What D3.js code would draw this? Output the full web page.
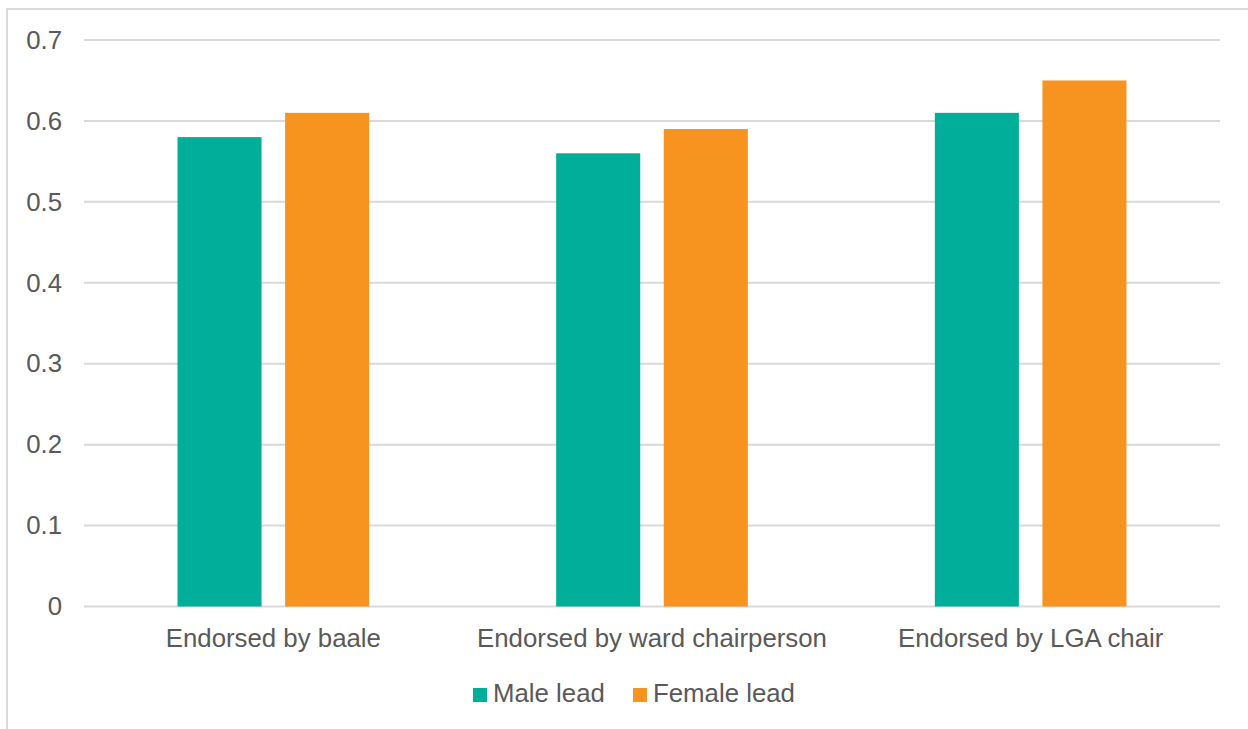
<!DOCTYPE html>
<html>
<head>
<meta charset="utf-8">
<script src="https://cdn.jsdelivr.net/npm/d3@7"></script>
<style>
  html, body { margin: 0; padding: 0; background: #fff; }
  svg { display: block; }
  text { font-family: "Liberation Sans", Arial, sans-serif; fill: #595959; }
</style>
</head>
<body>
<svg id="chart" width="1248" height="729"></svg>
<script>
// Endorsement rates by leader gender
const categories = ["Endorsed by baale", "Endorsed by ward chairperson", "Endorsed by LGA chair"];
const seriesNames = ["Male lead", "Female lead"];
const maleLead = [0.58, 0.56, 0.61];
const femaleLead = [0.61, 0.59, 0.65];
const tickValues = [0, 0.1, 0.2, 0.3, 0.4, 0.5, 0.6, 0.7];
const tickLabels = ["0", "0.1", "0.2", "0.3", "0.4", "0.5", "0.6", "0.7"];
const colors = ["#00AE99", "#F7941F"];
const fontSize = 25.8;

const seriesValues = [maleLead, femaleLead];
const rows = categories.map((c, i) => ({
  category: c,
  values: seriesNames.map((s, j) => ({ series: s, value: seriesValues[j][i], color: colors[j] }))
}));

const svg = d3.select("#chart");

// outer frame
svg.append("rect")
  .attr("x", 7).attr("y", 9)
  .attr("width", 1400).attr("height", 900)
  .attr("fill", "none")
  .attr("stroke", "#d9d9d9")
  .attr("stroke-width", 2);

const plot = { left: 84, right: 1220, top: 40, bottom: 606.5 };

const y = d3.scaleLinear().domain([0, 0.7]).range([plot.bottom, plot.top]);
const x0 = d3.scaleBand().domain(categories).range([plot.left, plot.right]).padding(0);
const x1 = d3.scaleBand().domain(seriesNames).range([0, x0.bandwidth()])
  .paddingInner(0.219).paddingOuter(0.869);

// gridlines
svg.append("g")
  .selectAll("line")
  .data(tickValues)
  .join("line")
  .attr("x1", plot.left).attr("x2", plot.right)
  .attr("y1", d => y(d)).attr("y2", d => y(d))
  .attr("stroke", "#d9d9d9")
  .attr("stroke-width", 2);

// y-axis labels
const yAxis = d3.axisLeft(y)
  .tickValues(tickValues)
  .tickFormat((d, i) => tickLabels[i])
  .tickSize(0)
  .tickPadding(0);
const yg = svg.append("g").attr("transform", "translate(62,0)").call(yAxis);
yg.select(".domain").remove();
yg.selectAll("text")
  .attr("font-size", fontSize)
  .attr("fill", "#595959")
  .style("font-family", "'Liberation Sans', Arial, sans-serif");

// bars
const groups = svg.append("g")
  .selectAll("g")
  .data(rows)
  .join("g")
  .attr("transform", d => `translate(${x0(d.category)},0)`);

groups.selectAll("rect")
  .data(d => d.values)
  .join("rect")
  .attr("x", d => x1(d.series))
  .attr("y", d => y(d.value))
  .attr("width", x1.bandwidth())
  .attr("height", d => y(0) - y(d.value))
  .attr("fill", d => d.color);

// category labels
const xAxis = d3.axisBottom(x0).tickSize(0).tickPadding(0);
const xg = svg.append("g").attr("transform", "translate(0,647)").call(xAxis);
xg.select(".domain").remove();
xg.selectAll("text")
  .attr("dy", 0)
  .attr("y", 0)
  .attr("font-size", fontSize)
  .attr("fill", "#595959")
  .style("font-family", "'Liberation Sans', Arial, sans-serif");

// legend
const legendItems = [
  { name: seriesNames[0], color: colors[0], x: 473 },
  { name: seriesNames[1], color: colors[1], x: 633 }
];
const legend = svg.append("g");
const li = legend.selectAll("g").data(legendItems).join("g")
  .attr("transform", d => `translate(${d.x},0)`);
li.append("rect")
  .attr("x", 0).attr("y", 688)
  .attr("width", 14).attr("height", 14)
  .attr("fill", d => d.color);
li.append("text")
  .attr("x", 20).attr("y", 702)
  .attr("font-size", fontSize)
  .text(d => d.name);
</script>
</body>
</html>
